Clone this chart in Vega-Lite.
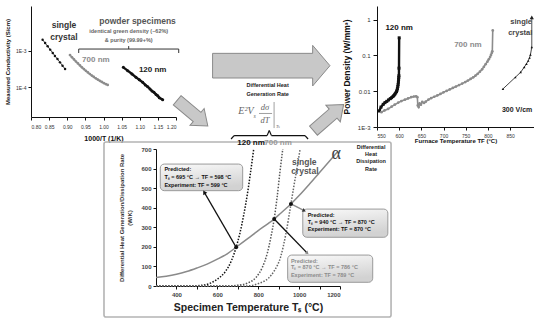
{
"$schema":"https://vega.github.io/schema/vega-lite/v6.json",
"background":"white",
"padding":{"left":4,"top":6,"right":0,"bottom":0},
"config":{
 "font":"Liberation Sans",
 "view":{"stroke":null},
 "axis":{"grid":false,"domainColor":"#111","tickColor":"#111","labelColor":"#333","titleColor":"#111","titleFontWeight":"bold","labelFont":"Liberation Sans","titleFont":"Liberation Sans","domainWidth":1,"tickWidth":1}
},
"datasets":{
 "cond":[
  {"s":"sc","x":0.832,"y":0.00200},{"s":"sc","x":0.839,"y":0.00162},{"s":"sc","x":0.846,"y":0.00132},{"s":"sc","x":0.853,"y":0.00107},{"s":"sc","x":0.860,"y":0.00087},{"s":"sc","x":0.866,"y":0.00072},{"s":"sc","x":0.873,"y":0.00059},{"s":"sc","x":0.880,"y":0.00048},{"s":"sc","x":0.887,"y":0.00039},{"s":"sc","x":0.894,"y":0.000316},
  {"s":"700","x":0.9076,"y":0.000760},{"s":"700","x":0.9131,"y":0.000661},{"s":"700","x":0.9186,"y":0.000578},{"s":"700","x":0.9240,"y":0.000507},{"s":"700","x":0.9295,"y":0.000448},{"s":"700","x":0.9350,"y":0.000396},{"s":"700","x":0.9404,"y":0.000352},{"s":"700","x":0.9459,"y":0.000315},{"s":"700","x":0.9514,"y":0.000282},{"s":"700","x":0.9569,"y":0.000255},{"s":"700","x":0.9623,"y":0.000231},{"s":"700","x":0.9678,"y":0.000210},{"s":"700","x":0.9733,"y":0.000192},{"s":"700","x":0.9788,"y":0.000176},{"s":"700","x":0.9842,"y":0.000163},{"s":"700","x":0.9897,"y":0.000151},{"s":"700","x":0.9952,"y":0.000140},{"s":"700","x":1.0006,"y":0.000131},{"s":"700","x":1.0061,"y":0.000123},{"s":"700","x":1.0116,"y":0.000116},
  {"s":"120","x":1.0547,"y":0.000351},{"s":"120","x":1.0667,"y":0.000285},{"s":"120","x":1.0786,"y":0.000231},{"s":"120","x":1.0897,"y":0.000187},{"s":"120","x":1.0988,"y":0.000161},{"s":"120","x":1.1081,"y":0.000137},{"s":"120","x":1.1153,"y":0.000116},{"s":"120","x":1.1219,"y":0.000104},{"s":"120","x":1.1283,"y":0.0000900},{"s":"120","x":1.1338,"y":0.0000790},{"s":"120","x":1.1393,"y":0.0000730},{"s":"120","x":1.1448,"y":0.0000640},{"s":"120","x":1.1495,"y":0.0000590},{"s":"120","x":1.1539,"y":0.0000520},{"s":"120","x":1.1633,"y":0.0000460}
 ],
 "pow":[
  {"s":"120","T":555,"P":0.0028},{"s":"120","T":559,"P":0.0036},{"s":"120","T":564,"P":0.0043},{"s":"120","T":568,"P":0.0048},{"s":"120","T":572,"P":0.0052},{"s":"120","T":576,"P":0.0057},{"s":"120","T":580,"P":0.0062},{"s":"120","T":583,"P":0.0066},{"s":"120","T":586,"P":0.0071},{"s":"120","T":588,"P":0.0076},{"s":"120","T":590,"P":0.0082},{"s":"120","T":592,"P":0.0089},{"s":"120","T":594,"P":0.0097},{"s":"120","T":595,"P":0.0106},{"s":"120","T":596,"P":0.0118},{"s":"120","T":597,"P":0.0135},{"s":"120","T":597.6,"P":0.0155},{"s":"120","T":598.2,"P":0.018},{"s":"120","T":598.7,"P":0.021},{"s":"120","T":599.1,"P":0.024},{"s":"120","T":599.4,"P":0.027},{"s":"120","T":599.6,"P":0.044},{"s":"120","T":600,"P":0.31},
  {"s":"700","T":560,"P":0.0026},{"s":"700","T":567,"P":0.0029},{"s":"700","T":575,"P":0.0032},{"s":"700","T":583,"P":0.0037},{"s":"700","T":590,"P":0.0042},{"s":"700","T":598,"P":0.0048},{"s":"700","T":605,"P":0.0053},{"s":"700","T":613,"P":0.0058},{"s":"700","T":620,"P":0.0063},{"s":"700","T":627,"P":0.0068},{"s":"700","T":633,"P":0.0071},{"s":"700","T":638,"P":0.0072},{"s":"700","T":641,"P":0.0068},{"s":"700","T":642,"P":0.0040},{"s":"700","T":644,"P":0.0036},{"s":"700","T":646,"P":0.0046},{"s":"700","T":649,"P":0.0042},{"s":"700","T":652,"P":0.0050},{"s":"700","T":656,"P":0.0047},{"s":"700","T":660,"P":0.0051},{"s":"700","T":666,"P":0.0058},{"s":"700","T":672,"P":0.0064},{"s":"700","T":679,"P":0.0070},{"s":"700","T":686,"P":0.0076},{"s":"700","T":693,"P":0.0084},{"s":"700","T":700,"P":0.0093},{"s":"700","T":707,"P":0.0102},{"s":"700","T":714,"P":0.0112},{"s":"700","T":721,"P":0.0123},{"s":"700","T":728,"P":0.0135},{"s":"700","T":735,"P":0.0148},{"s":"700","T":742,"P":0.0163},{"s":"700","T":749,"P":0.018},{"s":"700","T":755,"P":0.0198},{"s":"700","T":761,"P":0.022},{"s":"700","T":767,"P":0.0245},{"s":"700","T":772,"P":0.0272},{"s":"700","T":777,"P":0.0305},{"s":"700","T":782,"P":0.035},{"s":"700","T":787,"P":0.041},{"s":"700","T":791,"P":0.048},{"s":"700","T":795,"P":0.057},{"s":"700","T":799,"P":0.067},{"s":"700","T":802,"P":0.078},{"s":"700","T":805,"P":0.09},{"s":"700","T":807,"P":0.103},{"s":"700","T":809,"P":0.118},{"s":"700","T":810,"P":0.13},{"s":"700","T":811,"P":0.5},
  {"s":"sc","T":834,"P":0.0116},{"s":"sc","T":862,"P":0.0245},{"s":"sc","T":874,"P":0.034},{"s":"sc","T":882,"P":0.047},{"s":"sc","T":887,"P":0.058},{"s":"sc","T":891,"P":0.071},{"s":"sc","T":894,"P":0.086},{"s":"sc","T":896,"P":0.105},{"s":"sc","T":899,"P":0.17}
 ],
 "rate":[
  {"s":"alpha","T":300,"R":43},{"s":"alpha","T":350,"R":50},{"s":"alpha","T":400,"R":60},{"s":"alpha","T":450,"R":74},{"s":"alpha","T":500,"R":92},{"s":"alpha","T":550,"R":112},{"s":"alpha","T":600,"R":137},{"s":"alpha","T":650,"R":166},{"s":"alpha","T":692,"R":198},{"s":"alpha","T":750,"R":243},{"s":"alpha","T":800,"R":283},{"s":"alpha","T":850,"R":320},{"s":"alpha","T":878,"R":342},{"s":"alpha","T":910,"R":372},{"s":"alpha","T":960,"R":419},{"s":"alpha","T":1000,"R":462},{"s":"alpha","T":1050,"R":520},{"s":"alpha","T":1100,"R":580},{"s":"alpha","T":1150,"R":640},{"s":"alpha","T":1190,"R":688},
  {"s":"120","T":300,"R":0},{"s":"120","T":480,"R":0},{"s":"120","T":520,"R":3},{"s":"120","T":560,"R":12},{"s":"120","T":600,"R":35},{"s":"120","T":640,"R":75},{"s":"120","T":670,"R":132},{"s":"120","T":692,"R":198},{"s":"120","T":710,"R":268},{"s":"120","T":730,"R":368},{"s":"120","T":750,"R":490},{"s":"120","T":765,"R":600},{"s":"120","T":778,"R":700},
  {"s":"700","T":300,"R":0},{"s":"700","T":650,"R":0},{"s":"700","T":700,"R":4},{"s":"700","T":750,"R":16},{"s":"700","T":790,"R":45},{"s":"700","T":820,"R":95},{"s":"700","T":845,"R":170},{"s":"700","T":862,"R":250},{"s":"700","T":878,"R":342},{"s":"700","T":892,"R":450},{"s":"700","T":906,"R":580},{"s":"700","T":920,"R":700},
  {"s":"sc","T":300,"R":0},{"s":"sc","T":740,"R":0},{"s":"sc","T":800,"R":12},{"s":"sc","T":850,"R":40},{"s":"sc","T":880,"R":80},{"s":"sc","T":910,"R":150},{"s":"sc","T":935,"R":265},{"s":"sc","T":960,"R":419},{"s":"sc","T":976,"R":520},{"s":"sc","T":991,"R":610},{"s":"sc","T":1005,"R":700}
 ]
},
"bounds":"full",
"spacing":-5,
"vconcat":[
 {"bounds":"flush","spacing":0,"hconcat":[
  {"width":145,"height":111,
   "encoding":{
    "x":{"field":"x","type":"quantitative","scale":{"domain":[0.8,1.2],"nice":false,"zero":false},"axis":{"values":[0.8,0.85,0.9,0.95,1.0,1.05,1.1,1.15,1.2],"format":".2f","labelFontSize":5,"tickSize":3,"labelPadding":4,"title":"1000/T (1/K)","titleFontSize":7,"titlePadding":5}},
    "y":{"field":"y","type":"quantitative","scale":{"type":"log","domain":[0.00001545,0.01664],"nice":false},"axis":{"values":[0.0001,0.001],"labelExpr":"datum.value < 0.0005 ? '1E-4' : '1E-3'","labelFontSize":5,"tickSize":3,"labelPadding":2,"title":"Measured Conductivity (S/cm)","titleFontSize":6,"titlePadding":5}}
   },
   "layer":[
    {"data":{"name":"cond"},"mark":{"type":"line"},"encoding":{
      "color":{"field":"s","type":"nominal","scale":{"domain":["sc","700","120"],"range":["#111111","#8c8c8c","#111111"]},"legend":null},
      "strokeWidth":{"field":"s","type":"nominal","scale":{"domain":["sc","700","120"],"range":[0.8,2.4,0.8]},"legend":null}}},
    {"data":{"name":"cond"},"mark":{"type":"point","filled":true,"opacity":1},"encoding":{
      "color":{"field":"s","type":"nominal","legend":null},
      "size":{"field":"s","type":"nominal","scale":{"domain":["sc","700","120"],"range":[6,9,6]},"legend":null}}},
    {"data":{"values":[{"x":0.9316,"y":0.00111,"x2":1.2075,"y2":0.00111},{"x":0.9316,"y":0.000865,"x2":0.9316,"y2":0.00111},{"x":1.2075,"y":0.000865,"x2":1.2075,"y2":0.00111},{"x":1.0695,"y":0.00111,"x2":1.0695,"y2":0.00134}]},
     "mark":{"type":"rule","color":"#333","strokeWidth":1},"encoding":{"x2":{"field":"x2"},"y2":{"field":"y2"}}},
    {"data":{"values":[{"x":0.891,"y":0.0050,"t":"single"},{"x":0.891,"y":0.00237,"t":"crystal"}]},"mark":{"type":"text","fontSize":8.5,"fontWeight":"bold","color":"#333"},"encoding":{"text":{"field":"t"}}},
    {"data":{"values":[{"x":1.094,"y":0.0066,"t":"powder specimens"}]},"mark":{"type":"text","fontSize":8.5,"fontWeight":"bold","color":"#555"},"encoding":{"text":{"field":"t"}}},
    {"data":{"values":[{"x":1.0695,"y":0.00345,"t":"identical green density (~62%)"},{"x":1.0695,"y":0.00200,"t":"& purity (99.99+%)"}]},"mark":{"type":"text","fontSize":5.5,"fontWeight":"bold","color":"#666"},"encoding":{"text":{"field":"t"}}},
    {"data":{"values":[{"x":0.979,"y":0.000568,"t":"700 nm"}]},"mark":{"type":"text","fontSize":8,"fontWeight":"bold","color":"#8c8c8c"},"encoding":{"text":{"field":"t"}}},
    {"data":{"values":[{"x":1.1357,"y":0.000297,"t":"120 nm"}]},"mark":{"type":"text","fontSize":8,"fontWeight":"bold","color":"#222"},"encoding":{"text":{"field":"t"}}}
   ]},
  {"width":201,"height":133,
   "encoding":{
    "x":{"field":"u","type":"quantitative","scale":{"domain":[0,100]},"axis":null},
    "y":{"field":"v","type":"quantitative","scale":{"domain":[0,98.5],"reverse":true},"axis":null}
   },
   "layer":[
    {"data":{"values":[{"u":47.4,"v":44.2}]},"mark":{"type":"point","shape":"M-1,-0.21L0.705,-0.21L0.705,-0.346L1,0L0.705,0.346L0.705,0.21L-1,0.21Z","size":13780,"filled":true,"fill":"#c8c8c8","stroke":"#8a8a8a","strokeWidth":1,"opacity":1}},
    {"data":{"values":[{"u":8.2,"v":79.3}]},"mark":{"type":"point","shape":"M-1,-0.3L0.3,-0.3L0.3,-0.55L1,0L0.3,0.55L0.3,0.3L-1,0.3Z","size":1600,"angle":40,"filled":true,"fill":"#c8c8c8","stroke":"#8a8a8a","strokeWidth":1,"opacity":1}},
    {"data":{"values":[{"u":75.9,"v":82.6}]},"mark":{"type":"point","shape":"M-1,-0.3L0.3,-0.3L0.3,-0.55L1,0L0.3,0.55L0.3,0.3L-1,0.3Z","size":1600,"angle":319,"filled":true,"fill":"#c8c8c8","stroke":"#8a8a8a","strokeWidth":1,"opacity":1}},
    {"data":{"values":[{"u":45.6,"v":58.5,"t":"Differential Heat"},{"u":45.6,"v":65.2,"t":"Generation Rate"}]},"mark":{"type":"text","fontSize":5.5,"fontWeight":"bold","color":"#222"},"encoding":{"text":{"field":"t"}}},
    {"data":{"values":[{"u":34.8,"v":77.8,"t":"E²V"}]},"mark":{"type":"text","font":"Liberation Serif","fontStyle":"italic","fontSize":10,"color":"#666"},"encoding":{"text":{"field":"t"}}},
    {"data":{"values":[{"u":39.1,"v":81.5,"t":"s"}]},"mark":{"type":"text","font":"Liberation Serif","fontStyle":"italic","fontSize":6,"color":"#666"},"encoding":{"text":{"field":"t"}}},
    {"data":{"values":[{"u":44.3,"v":74.8,"t":"dσ"},{"u":44.3,"v":84.4,"t":"dT"}]},"mark":{"type":"text","font":"Liberation Serif","fontStyle":"italic","fontSize":8.5,"color":"#666"},"encoding":{"text":{"field":"t"}}},
    {"data":{"values":[{"u":50.7,"v":89.6,"t":"Ts"}]},"mark":{"type":"text","font":"Liberation Serif","fontStyle":"italic","fontSize":4.5,"color":"#666"},"encoding":{"text":{"field":"t"}}},
    {"data":{"values":[{"u":41.3,"v":79.6,"u2":47.8,"v2":79.6},{"u":48.8,"v":71.1,"u2":48.8,"v2":90.4}]},"mark":{"type":"rule","color":"#777","strokeWidth":0.7},"encoding":{"x2":{"field":"u2"},"y2":{"field":"v2"}}},
    {"data":{"values":[{"u":27.4,"v":98.5,"u2":28.9,"v2":96},{"u":28.9,"v":96,"u2":45.3,"v2":96},{"u":45.3,"v":96,"u2":46.4,"v2":92.2},{"u":46.4,"v":92.2,"u2":47.5,"v2":96},{"u":47.5,"v":96,"u2":64.2,"v2":96},{"u":64.2,"v":96,"u2":65.7,"v2":98.5}]},"mark":{"type":"rule","color":"#111","strokeWidth":1.2},"encoding":{"x2":{"field":"u2"},"y2":{"field":"v2"}}}
   ]},
  {"width":157,"height":121,
   "encoding":{
    "x":{"field":"T","type":"quantitative","scale":{"domain":[550,904],"nice":false,"zero":false},"axis":{"values":[550,600,650,700,750,800,850],"labelFontSize":5,"tickSize":3,"labelPadding":3,"title":"Furnace Temperature TF (°C)","titleFontSize":6,"titlePadding":-1}},
    "y":{"field":"P","type":"quantitative","scale":{"type":"log","domain":[0.001,2.4],"nice":false},"axis":{"values":[0.001,0.01,0.1,1],"labelExpr":"datum.value < 0.005 ? '1E-3' : datum.value < 0.05 ? '0.01' : datum.value < 0.5 ? '0.1' : '1'","labelFontSize":6,"tickSize":4,"labelPadding":3,"title":"Power Density (W/mm³)","titleFontSize":8.5,"titlePadding":6}}
   },
   "layer":[
    {"data":{"name":"pow"},"mark":{"type":"line"},"encoding":{
      "color":{"field":"s","type":"nominal","scale":{"domain":["120","700","sc"],"range":["#111111","#8c8c8c","#222222"]},"legend":null},
      "strokeWidth":{"field":"s","type":"nominal","scale":{"domain":["120","700","sc"],"range":[0.8,1,0.6]},"legend":null}}},
    {"data":{"name":"pow"},"mark":{"type":"point","filled":true,"opacity":1},"encoding":{
      "color":{"field":"s","type":"nominal","legend":null},
      "shape":{"field":"s","type":"nominal","scale":{"domain":["120","700","sc"],"range":["square","circle","triangle-up"]},"legend":null},
      "size":{"field":"s","type":"nominal","scale":{"domain":["120","700","sc"],"range":[14,22,14]},"legend":null}}},
    {"data":{"values":[{"T":899,"P":0.17,"P2":1.1}]},"mark":{"type":"rule","color":"#222","strokeWidth":0.8},"encoding":{"y2":{"field":"P2"}}},
    {"data":{"values":[{"T":899,"P":1.15}]},"mark":{"type":"point","shape":"triangle-up","filled":true,"color":"#222","size":18,"opacity":1}},
    {"data":{"values":[{"T":600,"P":0.6,"t":"120 nm"}]},"mark":{"type":"text","fontSize":8,"fontWeight":"bold","color":"#111"},"encoding":{"text":{"field":"t"}}},
    {"data":{"values":[{"T":755,"P":0.2,"t":"700 nm"}]},"mark":{"type":"text","fontSize":8,"fontWeight":"bold","color":"#8c8c8c"},"encoding":{"text":{"field":"t"}}},
    {"data":{"values":[{"T":875,"P":0.84,"t":"single"},{"T":873,"P":0.425,"t":"crystal"}]},"mark":{"type":"text","fontSize":7.5,"fontWeight":"bold","color":"#444"},"encoding":{"text":{"field":"t"}}},
    {"data":{"values":[{"T":866,"P":0.003,"t":"300 V/cm"}]},"mark":{"type":"text","fontSize":7,"fontWeight":"bold","color":"#222"},"encoding":{"text":{"field":"t"}}}
   ]}
 ]},
 {"bounds":"flush","spacing":0,"hconcat":[
  {"width":125,"height":20,"data":{"values":[]},"mark":"point"},
  {"width":184,"height":137,
   "encoding":{
    "x":{"field":"T","type":"quantitative","scale":{"domain":[300,1200],"nice":false,"zero":false},"axis":{"values":[400,500,600,700,800,900,1000,1100,1200],"format":"d","labelExpr":"datum.value % 200 == 0 ? datum.label : ''","labelFontSize":6,"labelFontWeight":"bold","labelColor":"#444","tickSize":3,"labelPadding":2,"title":"Specimen Temperature Tₛ (°C)","titleFontSize":10.5,"titlePadding":5,"titleColor":"#222"}},
    "y":{"field":"R","type":"quantitative","scale":{"domain":[0,700],"nice":false},"axis":{"values":[0,100,200,300,400,500,600,700],"labelFontSize":6,"labelFontWeight":"bold","labelColor":"#444","tickSize":3,"labelPadding":2,"title":["Differential Heat Generation/Dissipation Rate","(W/K)"],"titleFontSize":6,"titlePadding":8,"titleColor":"#333","titleLineHeight":8}}
   },
   "layer":[
    {"data":{"values":[{"T":45.6,"T2":1449.7,"R":735.8,"R2":-158.4}]},"mark":{"type":"rect","fill":null,"stroke":"#b4b4b4","strokeWidth":1.6,"cornerRadius":2},"encoding":{"x2":{"field":"T2"},"y2":{"field":"R2"}}},
    {"data":{"name":"rate"},"transform":[{"filter":"datum.s == 'alpha'"}],"mark":{"type":"line","color":"#8a8a8a","strokeWidth":1.5,"interpolate":"monotone"}},
    {"data":{"name":"rate"},"transform":[{"filter":"datum.s == '120'"}],"mark":{"type":"line","color":"#111","strokeWidth":1.5,"strokeDash":[1.5,1.5],"interpolate":"monotone"}},
    {"data":{"name":"rate"},"transform":[{"filter":"datum.s == '700'"}],"mark":{"type":"line","color":"#555","strokeWidth":1.5,"strokeDash":[1.5,1.5],"interpolate":"monotone"}},
    {"data":{"name":"rate"},"transform":[{"filter":"datum.s == 'sc'"}],"mark":{"type":"line","color":"#666","strokeWidth":1.5,"strokeDash":[1.5,1.5],"interpolate":"monotone"}},
    {"data":{"values":[{"T":321,"T2":724,"R":623,"R2":487},{"T":1018,"T2":1434,"R":393,"R2":249},{"T":944,"T2":1360,"R":158,"R2":19}]},
     "mark":{"type":"rect","cornerRadius":4,"stroke":"#9a9a9a","strokeWidth":1,"fill":{"gradient":"linear","x1":0,"y1":0,"x2":0.3,"y2":1,"stops":[{"offset":0,"color":"#fafafa"},{"offset":1,"color":"#d2d2d2"}]}},
     "encoding":{"x2":{"field":"T2"},"y2":{"field":"R2"}}},
    {"data":{"values":[{"a":"1","T":692,"R":198},{"a":"1","T":536,"R":479},{"a":"2","T":960,"R":419},{"a":"2","T":1025,"R":385},{"a":"3","T":878,"R":342},{"a":"3","T":1040,"R":168}]},
     "mark":{"type":"line","strokeWidth":1.4},
     "encoding":{"color":{"field":"a","type":"nominal","scale":{"domain":["1","2","3"],"range":["#111","#333","#888"]},"legend":null}}},
    {"data":{"values":[{"T":536,"R":479}]},"mark":{"type":"point","shape":"triangle-up","filled":true,"color":"#111","size":22,"angle":330,"opacity":1}},
    {"data":{"values":[{"T":1025,"R":385}]},"mark":{"type":"point","shape":"triangle-up","filled":true,"color":"#333","size":16,"angle":117,"opacity":1}},
    {"data":{"values":[{"T":1040,"R":168}]},"mark":{"type":"point","shape":"triangle-up","filled":true,"color":"#888","size":16,"angle":136,"opacity":1}},
    {"data":{"values":[{"T":692,"R":198},{"T":878,"R":342},{"T":960,"R":419}]},"mark":{"type":"point","filled":true,"color":"#111","size":16,"opacity":1}},
    {"data":{"values":[
      {"T":341,"R":598,"t":"Predicted:","g":"d"},{"T":341,"R":555,"t":"Tₛ = 695 °C → TF = 598 °C","g":"d"},{"T":341,"R":518,"t":"Experiment: TF = 599 °C","g":"d"},
      {"T":1042,"R":363,"t":"Predicted:","g":"d"},{"T":1042,"R":325,"t":"Tₛ = 940 °C → TF = 870 °C","g":"d"},{"T":1042,"R":291,"t":"Experiment: TF = 870 °C","g":"d"},
      {"T":960,"R":129,"t":"Predicted:","g":"l"},{"T":960,"R":96,"t":"Tₛ = 870 °C → TF = 786 °C","g":"l"},{"T":960,"R":58,"t":"Experiment: TF = 789 °C","g":"l"}]},
     "mark":{"type":"text","align":"left","fontSize":5.5,"fontWeight":"bold"},
     "encoding":{"text":{"field":"t"},"color":{"field":"g","type":"nominal","scale":{"domain":["d","l"],"range":["#333","#888"]},"legend":null}}},
    {"data":{"values":[{"T":765,"R":731,"t":"120 nm"}]},"mark":{"type":"text","fontSize":8,"fontWeight":"bold","color":"#111"},"encoding":{"text":{"field":"t"}}},
    {"data":{"values":[{"T":897,"R":731,"t":"700 nm"}]},"mark":{"type":"text","fontSize":8,"fontWeight":"bold","color":"#999"},"encoding":{"text":{"field":"t"}}},
    {"data":{"values":[{"T":1025,"R":635,"t":"single"},{"T":1028,"R":588,"t":"crystal"}]},"mark":{"type":"text","fontSize":8.5,"fontWeight":"bold","color":"#555"},"encoding":{"text":{"field":"t"}}},
    {"data":{"values":[{"T":1181,"R":675,"t":"α"}]},"mark":{"type":"text","font":"Liberation Serif","fontSize":18,"color":"#444"},"encoding":{"text":{"field":"t"}}},
    {"data":{"values":[{"T":1352,"R":709,"t":"Differential"},{"T":1352,"R":675,"t":"Heat"},{"T":1352,"R":637,"t":"Dissipation"},{"T":1352,"R":600,"t":"Rate"}]},"mark":{"type":"text","fontSize":5.5,"fontWeight":"bold","color":"#222"},"encoding":{"text":{"field":"t"}}}
   ]}
 ]}
]
}
